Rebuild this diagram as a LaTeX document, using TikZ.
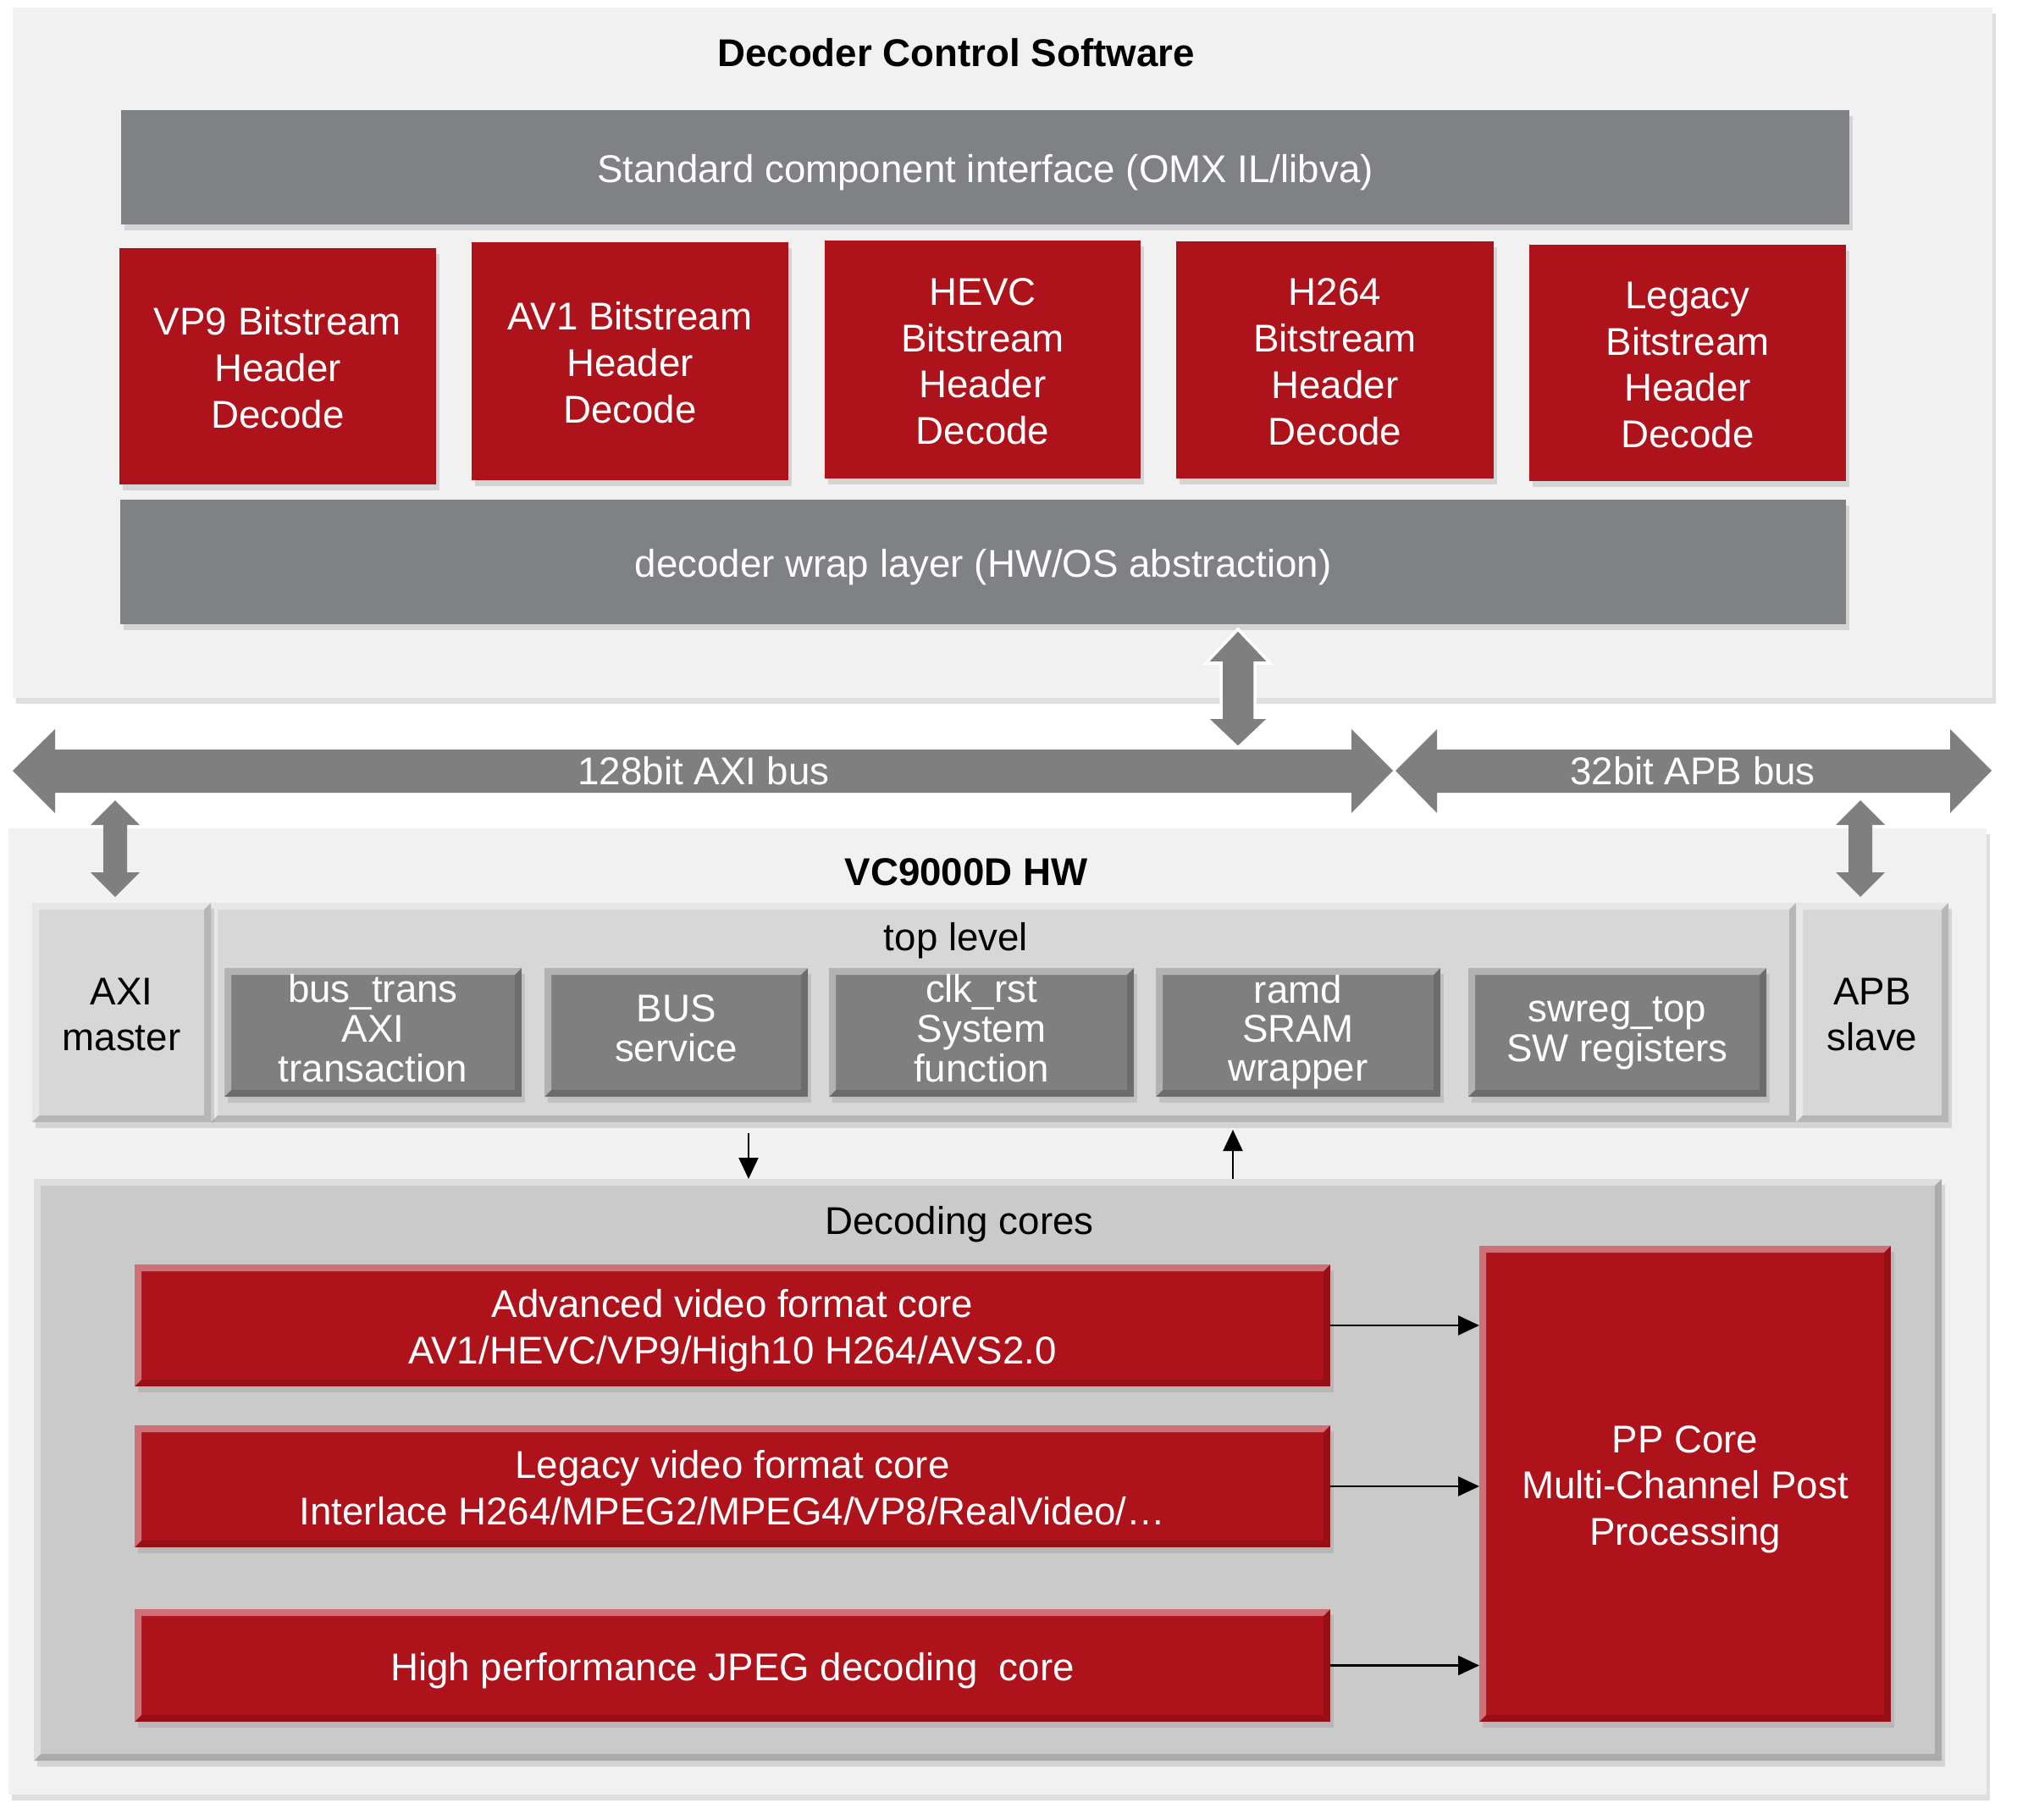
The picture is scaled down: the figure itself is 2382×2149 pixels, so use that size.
\documentclass[tikz,border=0pt]{standalone}
\usepackage{fontspec}
\setmainfont{Liberation Sans}
\usepackage{tikz}
\usetikzlibrary{arrows.meta,positioning,calc,shadows}
\definecolor{Panel}{HTML}{F1F1F1}
\definecolor{Bar}{HTML}{808184}
\definecolor{Brick}{HTML}{AE121A}
\definecolor{Pale}{HTML}{D7D7D7}
\definecolor{Core}{HTML}{CBCACB}
\definecolor{Slate}{HTML}{7F7F80}
\definecolor{Bus}{HTML}{7F7F7F}
\newcommand{\bevw}{0.8mm}
\newcommand{\celldrop}{0.7mm}
% lines set in a one-column table, sunk a little below the middle
\newcommand{\cell}[1]{\raisebox{-\celldrop}[\height][\depth]{\begin{tabular}{@{}c@{}}#1\end{tabular}}}
\tikzset{
  % box given by its two corners, in pixels of the drawing
  area/.style n args={4}{at={({(#1+#3)/2},{(#2+#4)/2})},
    minimum width={(#3-#1)*0.1mm},minimum height={(#4-#2)*0.1mm}},
  bevel/.style={path picture={
    \coordinate (bsw) at (path picture bounding box.south west);
    \coordinate (bne) at (path picture bounding box.north east);
    \coordinate (bnw) at (bsw|-bne);
    \coordinate (bse) at (bne|-bsw);
    \fill[white,opacity=.4] (bsw) -- (bnw) -- (bne) -- ([shift={(-\bevw,-\bevw)}]bne)
      -- ([shift={(\bevw,-\bevw)}]bnw) -- ([shift={(\bevw,\bevw)}]bsw) -- cycle;
    \fill[black,opacity=.15] (bsw) -- (bse) -- (bne) -- ([shift={(-\bevw,-\bevw)}]bne)
      -- ([shift={(-\bevw,\bevw)}]bse) -- ([shift={(\bevw,\bevw)}]bsw) -- cycle;
  }},
}

\begin{document}
\begin{tikzpicture}[x=0.1mm,y=-0.1mm,
  every node/.style={font=\fontsize{13}{15.6}\selectfont,inner sep=0pt,outer sep=0pt},
  lift/.style={drop shadow={shadow xshift=.4mm,shadow yshift=-.7mm,opacity=.25}},
  panel/.style={fill=Panel,lift},
  bar/.style={fill=Bar,text=white,lift},
  hdrbox/.style={fill=Brick,text=white,lift},
  corebox/.style={fill=Brick,text=white,lift,bevel},
  port/.style={fill=Pale,lift,bevel},
  hwblock/.style={fill=Slate,text=white,lift,bevel,font=\fontsize{13}{13.2}\selectfont,
    /utils/exec={\def\celldrop{0.2mm}}},
  corepanel/.style={fill=Core,lift,bevel},
  title/.style={font=\bfseries\fontsize{13}{15.6}\selectfont},
  bus/.style={fill=Bus},
  sig/.style={-{Triangle[length=2.5mm,width=2.3mm]},line width=0.6pt}]
\fill[white] (0,0) rectangle (2382,2149);
\useasboundingbox (0,0) rectangle (2382,2149);

% software side
\node[panel,area={15}{9}{2353}{824}] (swpanel) {};
\node[title] (swtitle) at (1129,61) {\cell{Decoder Control Software}};
\node[bar,area={143}{130}{2184}{265}] (stdif) {\cell{Standard component interface (OMX IL/libva)}};
\foreach \nm/\xa/\ya/\xb/\yb/\txt in {
    vp9/141/293/515/572/{VP9 Bitstream\\Header\\Decode},
    av1/557/286/931/567/{AV1 Bitstream\\Header\\Decode},
    hevc/974/284/1347/565/{HEVC\\Bitstream\\Header\\Decode},
    h264/1389/285/1764/565/{H264\\Bitstream\\Header\\Decode},
    legacy/1806/289/2180/568/{Legacy\\Bitstream\\Header\\Decode}}
  \node[hdrbox,area={\xa}{\ya}{\xb}{\yb}] (\nm) {\cell{\txt}};
\node[bar,area={142}{590}{2180}{737}] (wrap) {\cell{decoder wrap layer (HW/OS abstraction)}};

% hardware side
\node[panel,area={10}{978}{2346}{2119}] (hwpanel) {};
\node[title] (hwtitle) at (1141,1028) {\cell{VC9000D HW}};
\node[port,area={249}{1066}{2121}{1325}] (toplevel) {};
\node (toplbl) at (1129,1105) {\cell{top level}};
\node[port,area={38}{1066}{249}{1325}] (axim) {\cell{AXI\\master}};
\node[port,area={2121}{1066}{2301}{1325}] (apbs) {\cell{APB\\slave}};
\foreach \nm/\xa/\xb/\txt in {
    bustrans/265/616/{bus\_trans\\AXI\\transaction},
    bussvc/643/954/{BUS\\service},
    clkrst/979/1339/{clk\_rst\\System\\function},
    ramd/1365/1701/{ramd\\SRAM\\wrapper},
    swreg/1734/2086/{swreg\_top\\SW registers}}
  \node[hwblock,area={\xa}{1143}{\xb}{1295}] (\nm) {\cell{\txt}};

\node[corepanel,area={40}{1392}{2293}{2079}] (cores) {};
\node (corelbl) at (1133,1440) {\cell{Decoding cores}};
\node[corebox,area={159}{1493}{1571}{1637}] (advcore) {\cell{Advanced video format core\\AV1/HEVC/VP9/High10 H264/AVS2.0}};
\node[corebox,area={159}{1683}{1571}{1827}] (legcore) {\cell{Legacy video format core\\Interlace H264/MPEG2/MPEG4/VP8/RealVideo/…}};
\node[corebox,area={159}{1900}{1571}{2033}] (jpegcore) {\cell{High performance JPEG decoding~~core}};
\node[corebox,area={1747}{1471}{2233}{2033}] (ppcore) {\cell{PP Core\\Multi-Channel Post\\Processing}};
\foreach \src in {advcore,legcore,jpegcore}
  \draw[sig] (\src.east) -- (\src.east -| ppcore.west);

\coordinate (dn) at (884,0);
\coordinate (up) at (1456,0);
\draw[sig,shorten <=1.3mm] (toplevel.south -| dn) -- (cores.north -| dn);
\draw[sig,shorten >=0.9mm] (cores.north -| up) -- (toplevel.south -| up);

% buses
\fill[bus] (15,910) -- (65,861) -- (65,885) -- (1596,885) -- (1596,861) -- (1645,910)
  -- (1596,960) -- (1596,936) -- (65,936) -- (65,960) -- cycle;
\node[text=white] (axibus) at (831,909) {\cell{128bit AXI bus}};
\fill[bus] (1648,910) -- (1697,861) -- (1697,885) -- (2303,885) -- (2303,861) -- (2352,910)
  -- (2303,960) -- (2303,936) -- (1697,936) -- (1697,960) -- cycle;
\node[text=white] (apbbus) at (1999,909) {\cell{32bit APB bus}};

\filldraw[bus,draw=white,line width=1pt] (1462,743) -- (1500,783) -- (1482,783) -- (1482,847)
  -- (1500,847) -- (1462,883) -- (1424,847) -- (1442,847) -- (1442,783) -- (1424,783) -- cycle;
\foreach \x in {136,2197}
  \fill[bus] (\x,945) -- ++(29,29) -- ++(-15,0) -- ++(0,56) -- ++(15,0) -- ++(-29,29)
    -- ++(-29,-29) -- ++(15,0) -- ++(0,-56) -- ++(-15,0) -- cycle;
\end{tikzpicture}
\end{document}
